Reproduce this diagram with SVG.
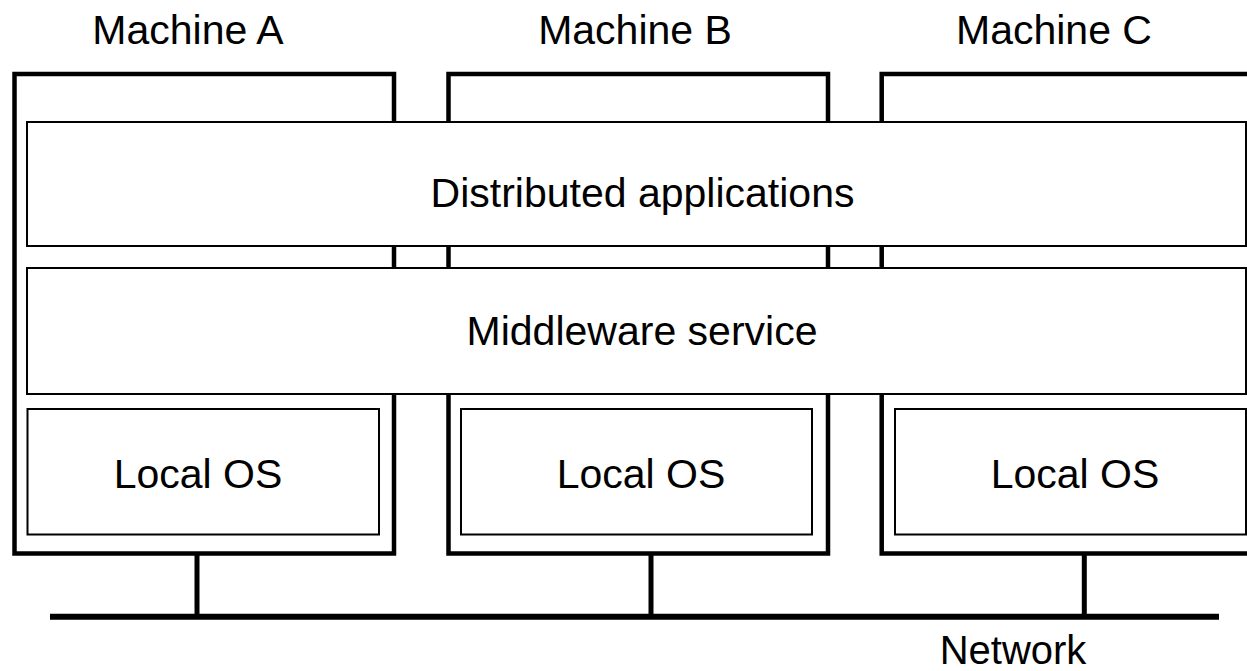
<svg xmlns="http://www.w3.org/2000/svg" width="1247" height="671" viewBox="0 0 1247 671">
<style>
.machine{fill:none;stroke:#000;stroke-width:4.5}
.layer{fill:#fff;stroke:#000;stroke-width:2}
.wire{stroke:#000;stroke-width:5;fill:none}
.net{stroke:#000;stroke-width:6;fill:none}
text{font-family:"Liberation Sans",Arial,sans-serif;font-size:41px;fill:#000;text-anchor:middle}
</style>
<rect width="1247" height="671" fill="#fff"/>
<g id="machineA">
<rect class="machine" x="14.5" y="74" width="379.5" height="479.5"/>
<text x="188" y="43.5">Machine A</text>
</g>
<g id="machineB">
<rect class="machine" x="448.5" y="74" width="379.5" height="479.5"/>
<text x="635" y="43.5">Machine B</text>
</g>
<g id="machineC">
<rect class="machine" x="881.7" y="74" width="400" height="479.5"/>
<text x="1054" y="43.5">Machine C</text>
</g>
<g id="distributed">
<rect class="layer" x="27" y="122" width="1219" height="124"/>
<text x="642.5" y="206.5">Distributed applications</text>
</g>
<g id="middleware">
<rect class="layer" x="27" y="268" width="1219" height="126"/>
<text x="642" y="345">Middleware service</text>
</g>
<g id="osA">
<rect class="layer" x="27.5" y="409" width="351.5" height="125.5"/>
<text x="198" y="487.5">Local OS</text>
</g>
<g id="osB">
<rect class="layer" x="461" y="409" width="351" height="125.5"/>
<text x="641" y="487.5">Local OS</text>
</g>
<g id="osC">
<rect class="layer" x="895" y="409" width="351" height="125.5"/>
<text x="1075" y="487.5">Local OS</text>
</g>
<g id="connectors">
<line class="net" x1="50" y1="616.7" x2="1219" y2="616.7"/>
<line class="wire" x1="197" y1="553.5" x2="197" y2="616"/>
<line class="wire" x1="651" y1="553.5" x2="651" y2="616"/>
<line class="wire" x1="1084.3" y1="553.5" x2="1084.3" y2="616"/>
</g>
<g id="network">
<text x="1013" y="664" style="font-size:40px">Network</text>
</g>
</svg>
